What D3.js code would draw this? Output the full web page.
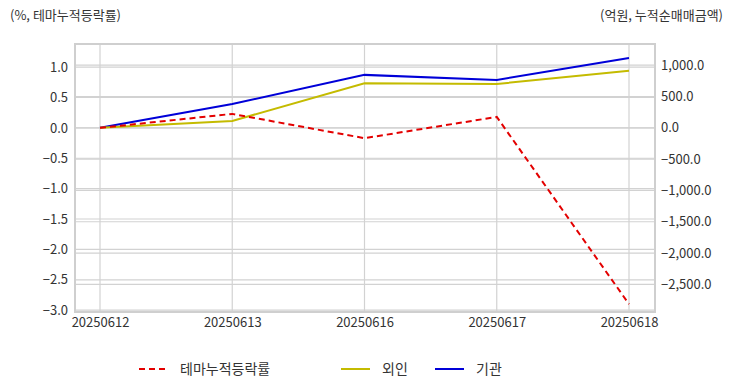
<!DOCTYPE html>
<html>
<head>
<meta charset="utf-8">
<script src="https://cdn.jsdelivr.net/npm/d3@7"></script>
<style>
    body { margin: 0; background: #fff; }
    text { font-family: "Noto Sans CJK KR", "Noto Sans", sans-serif; fill: #333; }
</style>
</head>
<body>
<svg id="chart" width="732" height="392"></svg>
<script>
// categories and series
const dates = ['20250612', '20250613', '20250616', '20250617', '20250618'];
const themeRate = [0, 0.23, -0.17, 0.18, -2.9];      // 테마누적등락률 (%), left axis
const foreignNet = [0, 110, 710, 700, 910];          // 외인 (억원), right axis
const instNet = [0, 380, 845, 765, 1115];            // 기관 (억원), right axis
const leftTicks = [1.0, 0.5, 0.0, -0.5, -1.0, -1.5, -2.0, -2.5, -3.0];
const rightTicks = [1000, 500, 0, -500, -1000, -1500, -2000, -2500];

const svg = d3.select('#chart');
const plot = { left: 75, top: 44, right: 655, bottom: 312 };

const x = d3.scalePoint().domain(dates).range([100, 629]);
const yL = d3.scaleLinear().domain([-3.03, 1.38]).range([plot.bottom, plot.top]);
const yR = d3.scaleLinear().domain([-2941, 1338]).range([plot.bottom, plot.top]);

const gridColor = '#d2d2d2';

// horizontal grid, one set per axis
const grid = svg.append('g');
grid.selectAll('.gl').data(leftTicks).enter().append('line')
    .attr('x1', plot.left).attr('x2', plot.right)
    .attr('y1', d => yL(d)).attr('y2', d => yL(d))
    .attr('stroke', gridColor).attr('stroke-width', 1.2);
grid.selectAll('.gr').data(rightTicks).enter().append('line')
    .attr('x1', plot.left).attr('x2', plot.right)
    .attr('y1', d => yR(d)).attr('y2', d => yR(d))
    .attr('stroke', gridColor).attr('stroke-width', 1.2);
// vertical grid
grid.selectAll('.gx').data(dates).enter().append('line')
    .attr('x1', d => x(d)).attr('x2', d => x(d))
    .attr('y1', plot.top).attr('y2', plot.bottom)
    .attr('stroke', gridColor).attr('stroke-width', 1.2);

// frame
svg.append('rect')
    .attr('x', plot.left).attr('y', plot.top)
    .attr('width', plot.right - plot.left).attr('height', plot.bottom - plot.top)
    .attr('fill', 'none').attr('stroke', '#cfcfcf').attr('stroke-width', 2);

// axes (labels only)
const leftAxis = svg.append('g').attr('transform', `translate(${plot.left},0)`)
    .call(d3.axisLeft(yL).tickValues(leftTicks).tickFormat(d3.format('.1f')).tickSize(0).tickPadding(7));
const rightAxis = svg.append('g').attr('transform', `translate(${plot.right},0)`)
    .call(d3.axisRight(yR).tickValues(rightTicks).tickFormat(d3.format(',.1f')).tickSize(0).tickPadding(6));
const bottomAxis = svg.append('g').attr('transform', `translate(0,${plot.bottom})`)
    .call(d3.axisBottom(x).tickSize(0).tickPadding(6));
[leftAxis, rightAxis, bottomAxis].forEach(a => {
    a.select('.domain').remove();
    a.selectAll('text').style('font-size', '13px').attr('fill', '#333')
        .style('font-family', '"Noto Sans CJK KR", sans-serif');
});

// series lines
const lineL = d3.line().x((d, i) => x(dates[i])).y(d => yL(d));
const lineR = d3.line().x((d, i) => x(dates[i])).y(d => yR(d));

const series = [
    { name: '테마누적등락률', values: themeRate, line: lineL, color: '#e30000', dash: '6,4' },
    { name: '외인', values: foreignNet, line: lineR, color: '#c4bb00', dash: null },
    { name: '기관', values: instNet, line: lineR, color: '#0000d8', dash: null }
];

// draw in reverse so red dashed sits on top at the start
series.slice().reverse().forEach(s => {
    svg.append('path')
        .datum(s.values)
        .attr('d', s.line)
        .attr('fill', 'none')
        .attr('stroke', s.color)
        .attr('stroke-width', 2)
        .attr('stroke-dasharray', s.dash);
});

// axis titles
svg.append('text').attr('x', 10).attr('y', 20)
    .style('font-size', '13px').text('(%, 테마누적등락률)');
svg.append('text').attr('x', 723).attr('y', 20).attr('text-anchor', 'end')
    .style('font-size', '13px').text('(억원, 누적순매매금액)');

// legend
const legendPos = [139, 341, 435];
const legend = svg.append('g');
series.forEach((s, i) => {
    const lx = legendPos[i];
    legend.append('line')
        .attr('x1', lx).attr('x2', lx + 29)
        .attr('y1', 369).attr('y2', 369)
        .attr('stroke', s.color).attr('stroke-width', 2)
        .attr('stroke-dasharray', s.dash);
    legend.append('text')
        .attr('x', lx + 41).attr('y', 369).attr('dy', '0.35em')
        .style('font-size', '14px').text(s.name);
});
</script>
</body>
</html>
